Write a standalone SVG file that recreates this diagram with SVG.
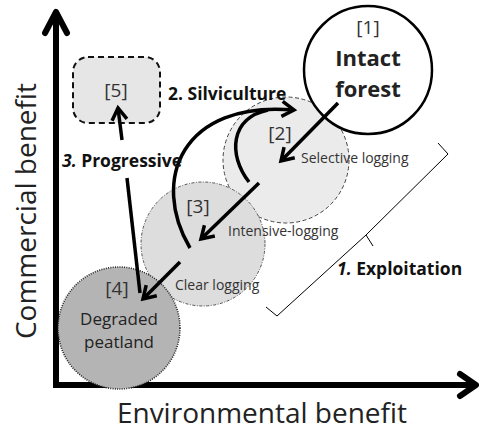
<svg xmlns="http://www.w3.org/2000/svg" width="479" height="433" viewBox="0 0 479 433">
  <style>
    text { font-family: "Open Sans", "Noto Sans", "Liberation Sans", sans-serif; fill: #222; }
    .axis-label { font-size: 28px; }
    .tag { font-size: 19px; fill: #333; }
    .small { font-size: 14px; fill: #333; }
    .proc { font-size: 17.5px; font-weight: bold; fill: #111; }
    .num { font-style: italic; }
    .line { fill: none; stroke: #000; stroke-width: 3.5; stroke-linecap: butt; }
    .flow { fill: none; stroke: #000; stroke-width: 3.5; stroke-linecap: butt; marker-end: url(#chev); }
    .axis { fill: none; stroke: #000; stroke-width: 6; }
  </style>
  <defs>
    <marker id="chev" markerUnits="userSpaceOnUse" viewBox="-16 -10 20 20" refX="0" refY="0" markerWidth="20" markerHeight="20" orient="auto">
      <path d="M-12,-7.5 L0,0 L-12,7.5" fill="none" stroke="#000" stroke-width="3.5" stroke-linejoin="miter"/>
    </marker>
  </defs>

  <!-- axes -->
  <g id="axes">
    <path class="axis" d="M56,14 V385 H474"/>
    <path class="axis" d="M45,33 L56,12 L67,33" stroke-linejoin="round" stroke-linecap="round"/>
    <path class="axis" d="M460,374 L476,385 L460,396" stroke-linejoin="round" stroke-linecap="round"/>
    <text class="axis-label" x="0" y="0" text-anchor="middle" transform="translate(36,211) rotate(-90)">Commercial benefit</text>
    <text class="axis-label" x="262" y="423" text-anchor="middle">Environmental benefit</text>
  </g>

  <!-- land-use states -->
  <g id="node2">
    <circle cx="286" cy="160" r="63" fill="#ebebeb" stroke="#444" stroke-width="1" stroke-dasharray="4 2.5"/>
    <text class="tag" x="280" y="140" text-anchor="middle">[2]</text>
    <text class="small" x="301" y="163">Selective logging</text>
  </g>
  <g id="node3">
    <circle cx="203" cy="244" r="62" fill="#dddddd" stroke="#555" stroke-width="1" stroke-dasharray="3 1.5 1 1.5"/>
    <text class="tag" x="198" y="213" text-anchor="middle">[3]</text>
    <text class="small" x="228" y="236">Intensive-logging</text>
    <text class="small" x="175" y="290">Clear logging</text>
  </g>
  <g id="node4">
    <circle cx="119" cy="328" r="61" fill="#b4b4b4" stroke="#222" stroke-width="1.6" stroke-dasharray="1 1.3"/>
    <text class="tag" x="117" y="295" text-anchor="middle">[4]</text>
    <text x="119" y="325" text-anchor="middle" font-size="17">Degraded</text>
    <text x="119" y="348" text-anchor="middle" font-size="17">peatland</text>
  </g>
  <g id="node1">
    <circle cx="368" cy="70" r="64" fill="#fff" stroke="#000" stroke-width="2.5"/>
    <text class="tag" x="368" y="34" text-anchor="middle">[1]</text>
    <text x="368" y="66" text-anchor="middle" font-size="22" font-weight="bold" fill="#111">Intact</text>
    <text x="368" y="97" text-anchor="middle" font-size="22" font-weight="bold" fill="#111">forest</text>
  </g>
  <g id="node5">
    <rect x="73" y="57" width="87" height="66" rx="15" ry="15" fill="#e6e6e6" stroke="#111" stroke-width="2" stroke-dasharray="6 4"/>
    <text class="tag" x="116" y="97" text-anchor="middle">[5]</text>
  </g>

  <!-- transitions -->
  <g id="connectors">
    <!-- 1. exploitation steps -->
    <path class="flow" d="M338,103 L281,161"/>
    <path class="flow" d="M259,183 L201,239"/>
    <path class="flow" d="M180,262 L143,299"/>
    <!-- 3. progressive path, broken by its label -->
    <path class="line" d="M140,293 L127,178"/>
    <path class="flow" d="M122,140 L118,108"/>
    <!-- 2. silviculture curves -->
    <path class="line" d="M249,182 C228,155 230,118 268,110"/>
    <path class="flow" d="M190,248 C150,180 182,100 294,110"/>
    <!-- exploitation bracket -->
    <path d="M438,143 L448,154 L366,235 L277,316 L266,307 M366,235 L373,246" fill="none" stroke="#000" stroke-width="1"/>
  </g>

  <!-- process labels -->
  <g id="labels">
    <text class="proc" x="168" y="100"><tspan>2.</tspan> Silviculture</text>
    <text class="proc" x="62" y="167"><tspan class="num">3.</tspan> Progressive</text>
    <text class="proc" x="337" y="275"><tspan class="num">1.</tspan>  Exploitation</text>
  </g>
</svg>
